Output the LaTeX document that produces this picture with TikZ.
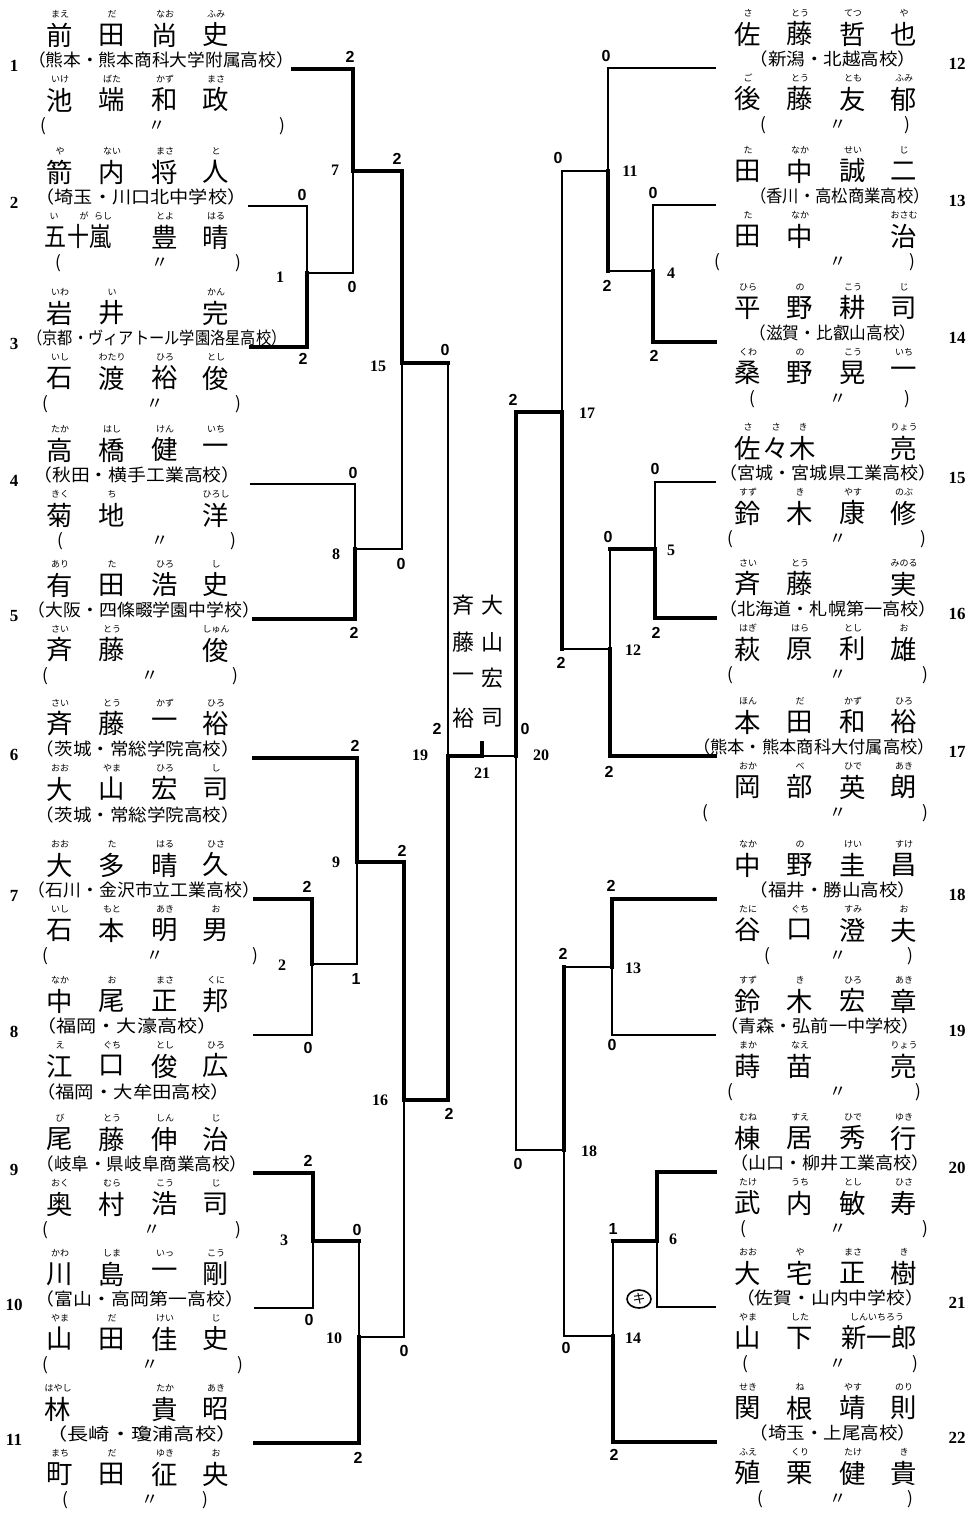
\documentclass[tikz,border=0pt]{standalone}
\usepackage{fontspec}
\usepackage{graphicx}
\setmainfont{Liberation Serif}
\newfontfamily\jp{Noto Sans CJK JP}
\newfontfamily\snf{Liberation Sans}
\usetikzlibrary{shapes.geometric}
\tikzset{
 nm/.style={font=\jp\fontsize{13.2}{13.2}\selectfont, inner sep=0pt},
 fg/.style={font=\jp\fontsize{4.5}{4.5}\selectfont, inner sep=0pt},
 sc/.style={font=\jp\fontsize{8.6}{9}\selectfont, inner sep=0pt},
 scr/.style={font=\snf\bfseries\fontsize{8}{8}\selectfont, inner sep=0pt},
 lab/.style={font=\bfseries\fontsize{8}{8}\selectfont, inner sep=0pt},
 enum/.style={font=\bfseries\fontsize{8.5}{8.5}\selectfont, inner sep=0pt},
 champ/.style={font=\jp\fontsize{11}{11}\selectfont, inner sep=0pt},
 ln/.style={line width=0.8pt, line cap=rect},
 lw/.style={line width=1.6pt, line cap=rect},
}
% person name: id, y, list x/char/furigana
\newcommand\pn[3]{\foreach \kX/\kC/\kF in {#3}{\node[nm] (#1-\kX) at (\kX,#2) {\kC}; \node[fg] (#1f-\kX) at (\kX,#2-21) {\kF};}}
% school line: id, x, y, width(pt), text
\newcommand\sch[5]{\node[sc] (#1) at (#2,#3) {\resizebox{#4pt}{\height}{#5}};}
% ditto line: id, y, x(, x ditto, x)
\newcommand\dt[5]{\node[sc] (#1l) at (#3,#2) {(}; \node[sc] (#1m) at (#4,#2) {〃}; \node[sc] (#1r) at (#5,#2) {)};}
% match: name, x, ytop, ybot, ymid, xout, style top, style bottom, style out
\newcommand\match[9]{%
 \coordinate (#1t) at (#2,#3); \coordinate (#1b) at (#2,#4);
 \coordinate (#1m) at (#2,#5); \coordinate (#1o) at (#6,#5);
 \draw[#7] (#1t) -- (#1m); \draw[#8] (#1m) -- (#1b); \draw[#9] (#1m) -- (#1o);}
\begin{document}
\begin{tikzpicture}[x=0.5pt,y=-0.5pt]
\useasboundingbox (0,0) rectangle (972,1513);
\fill[white] (0,0) rectangle (972,1513);

% ---------------- left entries ----------------
\pn{a1}{35}{60/前/まえ,112/田/だ,165/尚/なお,216/史/ふみ}
\sch{s1}{161}{60}{133}{（熊本・熊本商科大学附属高校）}
\pn{b1}{100}{60/池/いけ,112/端/ばた,165/和/かず,216/政/まさ}
\dt{p1}{126}{43}{157}{282}

\pn{a2}{172}{60/箭/や,112/内/ない,165/将/まさ,216/人/と}
\sch{s2}{141}{197}{105.5}{（埼玉・川口北中学校）}
\node[nm] (b2-g) at (78,237) {\resizebox{33pt}{\height}{五十嵐}};
\node[fg] (b2f-g1) at (54,216) {い};
\node[fg] (b2f-g2) at (84,216) {が};
\node[fg] (b2f-g3) at (103,216) {らし};
\pn{b2}{237}{165/豊/とよ,216/晴/はる}
\dt{p2}{263}{58}{160}{238}

\pn{a3}{313}{60/岩/いわ,112/井/い,216/完/かん}
\sch{s3}{157}{338}{129.5}{（京都・ヴィアトール学園洛星高校）}
\pn{b3}{378}{60/石/いし,112/渡/わたり,165/裕/ひろ,216/俊/とし}
\dt{p3}{404}{45}{155}{238}

\pn{a4}{450}{60/高/たか,112/橋/はし,165/健/けん,216/一/いち}
\sch{s4}{137}{475}{103.5}{（秋田・横手工業高校）}
\pn{b4}{515}{60/菊/きく,112/地/ち,216/洋/ひろし}
\dt{p4}{541}{60}{160}{233}

\pn{a5}{585}{60/有/あり,112/田/た,165/浩/ひろ,216/史/し}
\sch{s5}{144}{610}{116}{（大阪・四條畷学園中学校）}
\pn{b5}{650}{60/斉/さい,112/藤/とう,216/俊/しゅん}
\dt{p5}{676}{45}{150}{235}

\pn{a6}{724}{60/斉/さい,112/藤/とう,165/一/かず,216/裕/ひろ}
\sch{s6}{138}{749}{102}{（茨城・常総学院高校）}
\pn{b6}{789}{60/大/おお,112/山/やま,165/宏/ひろ,216/司/し}
\sch{t6}{138}{815}{102}{（茨城・常総学院高校）}

\pn{a7}{865}{60/大/おお,112/多/た,165/晴/はる,216/久/ひさ}
\sch{s7}{144}{890}{116}{（石川・金沢市立工業高校）}
\pn{b7}{930}{60/石/いし,112/本/もと,165/明/あき,216/男/お}
\dt{p7}{956}{45}{155}{255}

\pn{a8}{1001}{60/中/なか,112/尾/お,165/正/まさ,216/邦/くに}
\sch{s8}{127}{1026}{90.5}{（福岡・大濠高校）}
\pn{b8}{1066}{60/江/え,112/口/ぐち,165/俊/とし,216/広/ひろ}
\sch{t8}{133}{1092}{97}{（福岡・大牟田高校）}

\pn{a9}{1139}{60/尾/び,112/藤/とう,165/伸/しん,216/治/じ}
\sch{s9}{142}{1164}{105.5}{（岐阜・県岐阜商業高校）}
\pn{b9}{1204}{60/奥/おく,112/村/むら,165/浩/こう,216/司/じ}
\dt{p9}{1230}{45}{152}{238}

\pn{a10}{1274}{60/川/かわ,112/島/しま,165/一/いっ,216/剛/こう}
\sch{s10}{140}{1299}{104}{（富山・高岡第一高校）}
\pn{b10}{1339}{60/山/やま,112/田/だ,165/佳/けい,216/史/じ}
\dt{p10}{1365}{45}{150}{240}

\pn{a11}{1409}{58/林/はやし,165/貴/たか,216/昭/あき}
\sch{s11}{142}{1434}{95.5}{（長崎・瓊浦高校）}
\pn{b11}{1474}{60/町/まち,112/田/だ,165/征/ゆき,216/央/お}
\dt{p11}{1500}{65}{150}{205}

% ---------------- right entries ----------------
\pn{a12}{34}{748/佐/さ,800/藤/とう,853/哲/てつ,904/也/や}
\sch{s12}{833}{59}{83.5}{（新潟・北越高校）}
\pn{b12}{99}{748/後/ご,800/藤/とう,853/友/とも,904/郁/ふみ}
\dt{p12}{125}{763}{838}{907}

\pn{a13}{171}{748/田/た,800/中/なか,853/誠/せい,904/二/じ}
\sch{s13}{840}{196}{90}{（香川・高松商業高校）}
\pn{b13}{236}{748/田/た,800/中/なか,904/治/おさむ}
\dt{p13}{262}{717}{838}{912}

\pn{a14}{308}{748/平/ひら,800/野/の,853/耕/こう,904/司/じ}
\sch{s14}{833}{333}{83.5}{（滋賀・比叡山高校）}
\pn{b14}{373}{748/桑/くわ,800/野/の,853/晃/こう,904/一/いち}
\dt{p14}{399}{752}{838}{907}

\pn{a15}{448}{748/佐/さ,776/々/さ,803/木/き,904/亮/りょう}
\sch{s15}{828}{473}{108.5}{（宮城・宮城県工業高校）}
\pn{b15}{513}{748/鈴/すず,800/木/き,853/康/やす,904/修/のぶ}
\dt{p15}{539}{730}{838}{923}

\pn{a16}{584}{748/斉/さい,800/藤/とう,904/実/みのる}
\sch{s16}{828}{609}{108.5}{（北海道・札幌第一高校）}
\pn{b16}{649}{748/萩/はぎ,800/原/はら,853/利/とし,904/雄/お}
\dt{p16}{675}{730}{838}{925}

\pn{a17}{722}{748/本/ほん,800/田/だ,853/和/かず,904/裕/ひろ}
\sch{s17}{814}{747}{121}{（熊本・熊本商科大付属高校）}
\pn{b17}{787}{748/岡/おか,800/部/べ,853/英/ひで,904/朗/あき}
\dt{p17}{813}{705}{838}{925}

\pn{a18}{865}{748/中/なか,800/野/の,853/圭/けい,904/昌/すけ}
\sch{s18}{833}{890}{83.5}{（福井・勝山高校）}
\pn{b18}{930}{748/谷/たに,800/口/ぐち,853/澄/すみ,904/夫/お}
\dt{p18}{956}{767}{838}{910}

\pn{a19}{1001}{748/鈴/すず,800/木/き,853/宏/ひろ,904/章/あき}
\sch{s19}{820}{1026}{100}{（青森・弘前一中学校）}
\pn{b19}{1066}{748/蒔/まか,800/苗/なえ,904/亮/りょう}
\dt{p19}{1092}{730}{838}{918}

\pn{a20}{1138}{748/棟/むね,800/居/すえ,853/秀/ひで,904/行/ゆき}
\sch{s20}{830}{1163}{99.5}{（山口・柳井工業高校）}
\pn{b20}{1203}{748/武/たけ,800/内/うち,853/敏/とし,904/寿/ひさ}
\dt{p20}{1229}{743}{838}{925}

\pn{a21}{1273}{748/大/おお,800/宅/や,853/正/まさ,904/樹/き}
\sch{s21}{830}{1298}{94}{（佐賀・山内中学校）}
\pn{b21}{1338}{748/山/やま,800/下/した}
\node[nm] (b21-s) at (879,1338) {\resizebox{38pt}{\height}{新一郎}};
\node[fg] (b21f-s) at (877,1317) {しんいちろう};
\dt{p21}{1364}{745}{838}{915}

\pn{a22}{1408}{748/関/せき,800/根/ね,853/靖/やす,904/則/のり}
\sch{s22}{833}{1433}{83.5}{（埼玉・上尾高校）}
\pn{b22}{1473}{748/殖/ふえ,800/栗/くり,853/健/たけ,904/貴/き}
\dt{p22}{1499}{760}{838}{910}

% ---------------- entry numbers ----------------
\foreach \i/\yy in {1/66,2/203,3/344,4/481,5/616,6/755,7/896,8/1032,9/1170,10/1305,11/1440}
  {\node[enum] (n\i) at (14,\yy) {\i};}
\foreach \i/\yy in {12/64,13/201,14/338,15/478,16/614,17/752,18/895,19/1031,20/1168,21/1303,22/1438}
  {\node[enum] (n\i) at (957,\yy) {\i};}

% ---------------- bracket ----------------
\match{M1}{307}{206}{347}{273}{353}{ln}{lw}{ln}
\match{M7}{353}{69}{273}{171}{402}{lw}{ln}{lw}
\match{M8}{355}{484}{619}{549}{402}{ln}{lw}{ln}
\match{M15}{402}{171}{549}{363}{448}{lw}{ln}{lw}
\match{M2}{312}{899}{1035}{964}{357}{lw}{ln}{ln}
\match{M9}{357}{758}{964}{862}{404}{lw}{ln}{lw}
\match{M3}{313}{1173}{1308}{1241}{359}{lw}{ln}{lw}
\match{M10}{359}{1241}{1443}{1337}{404}{ln}{lw}{ln}
\match{M16}{404}{862}{1337}{1100}{448}{lw}{ln}{lw}
\match{M19}{448}{363}{1100}{756}{482}{ln}{lw}{lw}
\match{M20}{516}{412}{1150}{756}{482}{lw}{ln}{ln}
\match{M17}{562}{171}{649}{412}{516}{ln}{lw}{lw}
\match{M11}{608}{68}{271}{171}{562}{ln}{lw}{ln}
\match{M4}{653}{205}{342}{271}{608}{ln}{lw}{ln}
\match{M12}{610}{549}{756}{649}{562}{ln}{lw}{ln}
\match{M5}{655}{482}{618}{549}{610}{ln}{lw}{lw}
\match{M18}{564}{967}{1336}{1150}{516}{lw}{ln}{ln}
\match{M13}{612}{899}{1035}{967}{564}{lw}{ln}{ln}
\match{M14}{613}{1241}{1442}{1336}{564}{ln}{lw}{ln}
\match{M6}{657}{1172}{1307}{1241}{613}{lw}{ln}{lw}
\coordinate (T21) at (482,743);
\draw[lw] (M19o) -- (T21);

\coordinate (E1) at (293,69);   \draw[lw] (E1) -- (M7t);
\coordinate (E2) at (249,206);  \draw[ln] (E2) -- (M1t);
\coordinate (E3) at (251,347);  \draw[lw] (E3) -- (M1b);
\coordinate (E4) at (251,484);  \draw[ln] (E4) -- (M8t);
\coordinate (E5) at (254,619);  \draw[lw] (E5) -- (M8b);
\coordinate (E6) at (254,758);  \draw[lw] (E6) -- (M9t);
\coordinate (E7) at (255,899);  \draw[lw] (E7) -- (M2t);
\coordinate (E8) at (254,1035); \draw[ln] (E8) -- (M2b);
\coordinate (E9) at (255,1173); \draw[lw] (E9) -- (M3t);
\coordinate (E10) at (255,1308); \draw[ln] (E10) -- (M3b);
\coordinate (E11) at (255,1443); \draw[lw] (E11) -- (M10b);
\coordinate (R12) at (715,68);   \draw[ln] (M11t) -- (R12);
\coordinate (R13) at (715,205);  \draw[ln] (M4t) -- (R13);
\coordinate (R14) at (715,342);  \draw[lw] (M4b) -- (R14);
\coordinate (R15) at (715,482);  \draw[ln] (M5t) -- (R15);
\coordinate (R16) at (715,618);  \draw[lw] (M5b) -- (R16);
\coordinate (R17) at (715,756);  \draw[lw] (M12b) -- (R17);
\coordinate (R18) at (715,899);  \draw[lw] (M13t) -- (R18);
\coordinate (R19) at (715,1035); \draw[ln] (M13b) -- (R19);
\coordinate (R20) at (715,1172); \draw[lw] (M6t) -- (R20);
\coordinate (R21) at (715,1307); \draw[ln] (M6b) -- (R21);
\coordinate (R22) at (715,1442); \draw[lw] (M14b) -- (R22);

% ---------------- match numbers ----------------
\foreach \t/\xx/\yy in {1/280/277,7/335/170,8/336/554,15/378/366,2/282/965,9/336/862,3/284/1240,10/334/1338,16/380/1100,19/420/755,21/482/773,20/541/755,17/587/413,11/630/171,4/671/273,5/671/550,12/633/650,13/633/968,18/589/1151,6/673/1239,14/633/1338}
  {\node[lab] (L\t) at (\xx,\yy) {\t};}

% ---------------- scores ----------------
\foreach \k/\t/\xx/\yy in {a/2/350/57,b/0/302/195,c/2/303/359,d/2/397/159,e/0/352/287,f/0/353/473,g/2/354/633,h/0/401/564,i/0/445/350,j/2/355/746,k/2/402/851,l/2/307/887,m/1/356/979,n/0/308/1048,o/2/449/1114,p/2/308/1161,q/0/357/1230,r/0/309/1320,s/0/404/1351,t/2/358/1458,u/2/437/729,v/0/525/729,w/2/513/400,x/0/558/158,y/2/561/663,z/0/606/56,aa/2/607/286,ab/0/653/193,ac/2/654/356,ad/0/655/469,ae/2/656/633,af/0/608/537,ag/2/609/772,ah/2/563/954,ai/2/611/886,aj/0/612/1045,ak/0/518/1164,al/1/613/1229,am/0/566/1348,an/2/614/1455}
  {\node[scr] (S\k) at (\xx,\yy) {\t};}

% ---------------- champions ----------------
\foreach \c/\yy in {斉/605,藤/642,一/678,裕/718}{\node[champ] (cl\yy) at (463,\yy) {\c};}
\foreach \c/\yy in {大/605,山/642,宏/678,司/718}{\node[champ] (cr\yy) at (492,\yy) {\c};}

% ---------------- withdrawal mark ----------------
\node[draw, ellipse, line width=0.8pt, inner sep=0pt, minimum width=12pt, minimum height=9pt,
      font=\jp\fontsize{6.5}{6.5}\selectfont] (kiken) at (639,1299) {キ};
\end{tikzpicture}
\end{document}
